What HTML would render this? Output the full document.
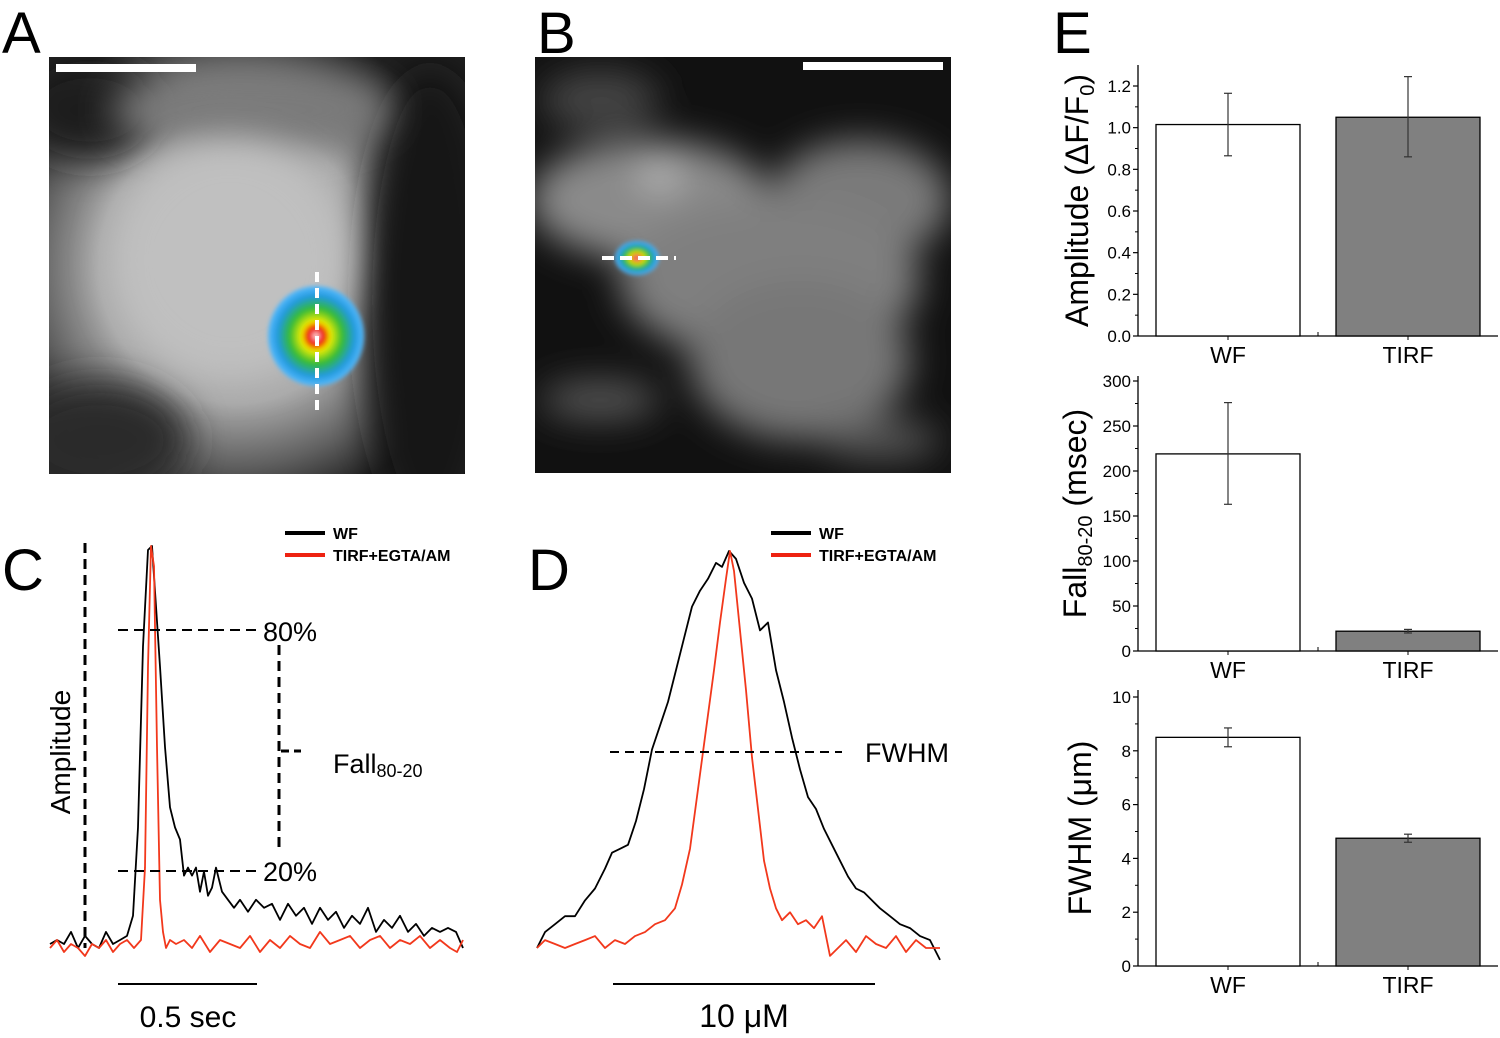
<!DOCTYPE html>
<html><head><meta charset="utf-8">
<style>
html,body{margin:0;padding:0;background:#fff;}
svg{display:block;font-family:"Liberation Sans",Arial,sans-serif;}
</style></head>
<body>
<svg id="fig" width="1500" height="1038" viewBox="0 0 1500 1038" xmlns="http://www.w3.org/2000/svg">
<defs>
<radialGradient id="gA" cx="0.45" cy="0.5" r="0.6">
<stop offset="0" stop-color="#c4c4c4"/><stop offset="0.55" stop-color="#a9a9a9"/><stop offset="0.8" stop-color="#606060"/><stop offset="1" stop-color="#1e1e1e"/></radialGradient>
<radialGradient id="gHot" cx="0.5" cy="0.5" r="0.5">
<stop offset="0" stop-color="#fff"/><stop offset="0.15" stop-color="#e00"/><stop offset="0.3" stop-color="#ee0"/><stop offset="0.55" stop-color="#3b3"/><stop offset="0.8" stop-color="#29d"/><stop offset="1" stop-color="#5bf"/></radialGradient>
<filter id="blur" x="-60%" y="-60%" width="220%" height="220%"><feGaussianBlur stdDeviation="18"/></filter>
<filter id="blur2" x="-30%" y="-30%" width="160%" height="160%"><feGaussianBlur stdDeviation="2"/></filter>
</defs>

<!-- Panel A image -->
<g>
<rect x="49" y="57" width="416" height="417" fill="#222"/>
<clipPath id="cA"><rect x="49" y="57" width="416" height="417"/></clipPath>
<g clip-path="url(#cA)">
<rect x="49" y="57" width="416" height="417" fill="url(#gA)"/>
<ellipse cx="90" cy="110" rx="70" ry="50" fill="#1c1c1c" filter="url(#blur)"/>
<ellipse cx="430" cy="300" rx="70" ry="230" fill="#151515" filter="url(#blur)"/>
<ellipse cx="100" cy="440" rx="90" ry="60" fill="#2a2a2a" filter="url(#blur)"/>
<ellipse cx="250" cy="110" rx="140" ry="40" fill="#7a7a7a" filter="url(#blur)"/>
<ellipse cx="230" cy="260" rx="120" ry="120" fill="#c0c0c0" filter="url(#blur)"/>
</g>
<ellipse cx="316" cy="336" rx="48" ry="50" fill="url(#gHot)" filter="url(#blur2)"/>
<line x1="317" y1="272" x2="317" y2="412" stroke="#fff" stroke-width="4" stroke-dasharray="10,6"/>
<rect x="56" y="64" width="140" height="8" fill="#fff"/>
</g>
<text x="2" y="53" font-size="58">A</text>

<!-- Panel B image -->
<g>
<rect x="535" y="57" width="416" height="416" fill="#111"/>
<clipPath id="cB"><rect x="535" y="57" width="416" height="416"/></clipPath>
<g clip-path="url(#cB)">
<g filter="url(#blur)">
<ellipse cx="650" cy="200" rx="120" ry="60" fill="#8a8a8a"/>
<ellipse cx="860" cy="200" rx="90" ry="60" fill="#7a7a7a"/>
<ellipse cx="770" cy="280" rx="150" ry="80" fill="#7f7f7f"/>
<ellipse cx="800" cy="360" rx="110" ry="80" fill="#777"/>
<ellipse cx="600" cy="100" rx="60" ry="30" fill="#444"/>
<ellipse cx="600" cy="400" rx="60" ry="20" fill="#555"/>
<ellipse cx="880" cy="440" rx="60" ry="20" fill="#555"/>
<ellipse cx="660" cy="175" rx="20" ry="15" fill="#bbb"/>
</g></g>
<ellipse cx="637" cy="258" rx="22" ry="17" fill="url(#gHot)" filter="url(#blur2)"/>
<line x1="602" y1="258" x2="676" y2="258" stroke="#fff" stroke-width="4" stroke-dasharray="12,6"/>
<rect x="803" y="62" width="140" height="8" fill="#fff"/>
</g>
<text x="537" y="53" font-size="58">B</text>

<!-- Panel C -->
<text x="2" y="590" font-size="58">C</text>
<g id="pc"></g>
<line x1="85" y1="543" x2="85" y2="948" stroke="#000" stroke-width="3" stroke-dasharray="10,6"/>
<text transform="translate(70,752) rotate(-90)" font-size="28" text-anchor="middle">Amplitude</text>
<line x1="118" y1="630" x2="258" y2="630" stroke="#000" stroke-width="2" stroke-dasharray="10,6"/>
<line x1="118" y1="871" x2="258" y2="871" stroke="#000" stroke-width="2" stroke-dasharray="10,6"/>
<text x="263" y="641" font-size="27">80%</text>
<text x="263" y="881" font-size="27">20%</text>
<line x1="279" y1="645" x2="279" y2="850" stroke="#000" stroke-width="3" stroke-dasharray="10,6"/>
<line x1="281" y1="751" x2="301" y2="751" stroke="#000" stroke-width="3" stroke-dasharray="8,5"/>
<text x="333" y="773" font-size="27">Fall<tspan font-size="18" dy="4">80-20</tspan></text>
<line x1="118" y1="984" x2="257" y2="984" stroke="#000" stroke-width="2"/>
<text x="188" y="1027" font-size="30" text-anchor="middle">0.5 sec</text>
<g>
<line x1="285" y1="533" x2="325" y2="533" stroke="#000" stroke-width="4"/>
<text x="333" y="539" font-size="16" font-weight="bold">WF</text>
<line x1="285" y1="555" x2="325" y2="555" stroke="#e21" stroke-width="4"/>
<text x="333" y="561" font-size="16" font-weight="bold">TIRF+EGTA/AM</text>
</g>

<!-- Panel D -->
<text x="528" y="590" font-size="58">D</text>
<g id="pd"></g>
<line x1="610" y1="752" x2="842" y2="752" stroke="#000" stroke-width="2" stroke-dasharray="9,6"/>
<text x="865" y="762" font-size="27">FWHM</text>
<line x1="613" y1="984" x2="875" y2="984" stroke="#000" stroke-width="2"/>
<text x="744" y="1027" font-size="32" text-anchor="middle">10 μM</text>
<g>
<line x1="771" y1="533" x2="811" y2="533" stroke="#000" stroke-width="4"/>
<text x="819" y="539" font-size="16" font-weight="bold">WF</text>
<line x1="771" y1="555" x2="811" y2="555" stroke="#e21" stroke-width="4"/>
<text x="819" y="561" font-size="16" font-weight="bold">TIRF+EGTA/AM</text>
</g>

<!-- Panel E -->
<text x="1053" y="53" font-size="58">E</text>
<g id="pe"></g>
</svg>

<script>
// ---- Panel C data ----
var cTimes = [50,57,64,71,78,85,92,99,106,113,120,127,133,138,143,148,152,156,160,165,170,175,180,184,188,192,196,200,204,208,212,216,222,228,234,240,248,256,264,272,280,288,296,304,312,320,328,336,344,352,360,368,376,384,392,400,408,416,424,432,440,448,456,463];
var cWF = [0.01,0.02,0.01,0.04,0.0,0.03,0.01,0.0,0.04,0.01,0.02,0.03,0.08,0.3,0.75,0.99,1.0,0.85,0.7,0.5,0.35,0.3,0.27,0.18,0.2,0.18,0.2,0.14,0.19,0.13,0.15,0.2,0.14,0.12,0.1,0.12,0.09,0.12,0.1,0.11,0.07,0.11,0.08,0.1,0.06,0.1,0.07,0.09,0.05,0.08,0.06,0.1,0.04,0.07,0.05,0.08,0.04,0.06,0.03,0.05,0.04,0.05,0.04,0.0];
var cTimesR = [50,57,64,71,78,85,92,99,106,113,120,127,134,141,145,148,151,154,157,160,163,166,170,176,184,192,200,210,220,230,240,250,260,270,280,290,300,310,320,330,340,350,360,370,380,390,400,410,420,430,440,450,457,463];
var cTIRF = [0.0,0.02,-0.01,0.01,0.0,-0.02,0.01,0.0,0.02,-0.01,0.01,0.02,0.0,0.02,0.2,0.7,1.0,0.95,0.5,0.12,0.04,0.0,0.02,0.01,0.02,0.0,0.03,-0.01,0.02,0.01,0.0,0.03,-0.01,0.02,0.0,0.03,0.01,0.0,0.04,0.01,0.02,0.03,0.0,0.02,0.03,0.0,0.02,0.01,0.03,0.0,0.02,0.0,-0.01,0.02];
// ---- Panel D data ----
var dPos = [537,545,555,565,575,585,595,605,612,620,628,636,644,652,660,668,676,684,692,700,708,716,722,729,736,744,752,760,768,776,784,792,800,808,816,824,832,840,848,856,864,872,880,890,900,910,920,930,940];
var dWF = [0.0,0.04,0.06,0.08,0.08,0.12,0.15,0.2,0.24,0.25,0.26,0.32,0.4,0.5,0.56,0.62,0.7,0.78,0.86,0.9,0.93,0.97,0.96,1.0,0.98,0.92,0.88,0.8,0.82,0.7,0.62,0.53,0.45,0.38,0.35,0.3,0.26,0.22,0.18,0.15,0.14,0.12,0.1,0.08,0.06,0.05,0.03,0.02,-0.03];
var dPosR = [537,545,555,565,575,585,595,605,615,625,635,645,655,665,675,682,690,698,706,714,720,726,730,734,740,746,752,758,764,770,776,782,790,798,806,814,822,830,838,846,856,866,876,886,896,906,916,926,940];
var dTIRF = [0.0,0.02,0.01,0.0,0.01,0.02,0.03,0.0,0.02,0.01,0.03,0.04,0.06,0.07,0.1,0.16,0.25,0.4,0.55,0.7,0.82,0.93,1.0,0.95,0.8,0.65,0.48,0.35,0.22,0.15,0.1,0.07,0.09,0.06,0.07,0.05,0.08,-0.02,0.0,0.02,-0.01,0.03,0.01,0.0,0.03,-0.01,0.02,0.0,0.0];
// ---- Panel E data ----
var eCategories = ["WF","TIRF"];
var ampValues = [1.015, 1.05];
var ampErrLow = [0.865, 0.86];
var ampErrHigh = [1.165, 1.245];
var ampTicks = ["0.0","0.2","0.4","0.6","0.8","1.0","1.2"];
var fallValues = [219, 22];
var fallErrLow = [163, 20];
var fallErrHigh = [276, 24];
var fallTicks = ["0","50","100","150","200","250","300"];
var fwhmValues = [8.5, 4.75];
var fwhmErrLow = [8.15, 4.6];
var fwhmErrHigh = [8.85, 4.9];
var fwhmTicks = ["0","2","4","6","8","10"];

var NS="http://www.w3.org/2000/svg";
function mk(tag, attrs, parent){var e=document.createElementNS(NS,tag);for(var k in attrs)e.setAttribute(k,attrs[k]);parent.appendChild(e);return e;}

function trace(g, xs, vs, base, top, color, name){
  var sy=function(v){return base-(base-top)*v;};
  var d=xs.map(function(x,i){return (i?"L":"M")+x+","+sy(vs[i]).toFixed(1);}).join(" ");
  var p=mk("path",{d:d,fill:"none",stroke:color,"stroke-width":1.8,"stroke-linejoin":"round"},g);
  
  
}
var pc=document.getElementById("pc"), pd=document.getElementById("pd");
trace(pc,cTimes,cWF,948,546,"#000","trace-c-wf");
trace(pc,cTimesR,cTIRF,948,546,"#f2381c","trace-c-tirf");
trace(pd,dPos,dWF,948,551,"#000","trace-d-wf");
trace(pd,dPosR,dTIRF,948,551,"#f2381c","trace-d-tirf");

var pe=document.getElementById("pe");
function barChart(opt){
  var x0=1138, x1=1498, y0=opt.y0, yTop=opt.yTop;
  var ys=function(v){return y0-(v/opt.max)*(y0-opt.yMaxPx);};
  var g=mk("g",{},pe);
  
  
  var ax=mk("line",{x1:x0,y1:yTop,x2:x0,y2:y0,stroke:"#000","stroke-width":1.3},g);
  
  
  var xa=mk("line",{x1:x0,y1:y0,x2:x1,y2:y0,stroke:"#000","stroke-width":1.3},g);
  
  
  var n=opt.ticks.length;
  for(var i=0;i<n;i++){
    var v=opt.max*i/(n-1), y=ys(v);
    mk("line",{x1:x0-5,y1:y,x2:x0,y2:y,stroke:"#000","stroke-width":1.2},g);
    if(i<n-1){var ym=ys(v+opt.max/(n-1)/2);mk("line",{x1:x0-3,y1:ym,x2:x0,y2:ym,stroke:"#000","stroke-width":1},g);}
    var t=mk("text",{x:x0-7,y:y+6,"font-size":17,"text-anchor":"end"},g);
    t.textContent=opt.ticks[i];
    
    
  }
  var centers=[1228,1408];
  mk("line",{x1:1318,y1:y0,x2:1318,y2:y0-4,stroke:"#000","stroke-width":1},g);
  for(var j=0;j<opt.values.length;j++){
    var c=centers[j], yv=ys(opt.values[j]);
    var r=mk("rect",{x:c-72,y:yv,width:144,height:y0-yv,fill:j?"#808080":"#fff",stroke:"#000","stroke-width":1.3},g);
    
    
    var el=mk("g",{stroke:"#333","stroke-width":1.2},g);
    
    
    var yl=ys(opt.lo[j]), yh=ys(opt.hi[j]);
    mk("line",{x1:c,y1:yl,x2:c,y2:yh},el);
    mk("line",{x1:c-4,y1:yl,x2:c+4,y2:yl},el);
    mk("line",{x1:c-4,y1:yh,x2:c+4,y2:yh},el);
    mk("line",{x1:c,y1:y0,x2:c,y2:y0+4,stroke:"#000"},g);
    var lt=mk("text",{x:c,y:y0+27,"font-size":23,"text-anchor":"middle"},g);
    lt.textContent=eCategories[j];
    
    
  }
  var ti=mk("text",{transform:"translate("+opt.titleX+","+((yTop+y0)/2)+") rotate(-90)","font-size":32,"text-anchor":"middle"},g);
  ti.innerHTML=opt.title;
  
  
}
barChart({name:"amplitude-chart",y0:336,yTop:65,yMaxPx:86,max:1.2,ticks:ampTicks,values:ampValues,lo:ampErrLow,hi:ampErrHigh,titleX:1088,title:'Amplitude (ΔF/F<tspan font-size="20" dy="6">0</tspan><tspan dy="-6">)</tspan>'});
barChart({name:"fall-chart",y0:651,yTop:376,yMaxPx:381,max:300,ticks:fallTicks,values:fallValues,lo:fallErrLow,hi:fallErrHigh,titleX:1086,title:'Fall<tspan font-size="20" dy="6">80-20</tspan><tspan dy="-6"> (msec)</tspan>'});
barChart({name:"fwhm-chart",y0:966,yTop:690,yMaxPx:697,max:10,ticks:fwhmTicks,values:fwhmValues,lo:fwhmErrLow,hi:fwhmErrHigh,titleX:1091,title:'FWHM (μm)'});
</script>
</body></html>
